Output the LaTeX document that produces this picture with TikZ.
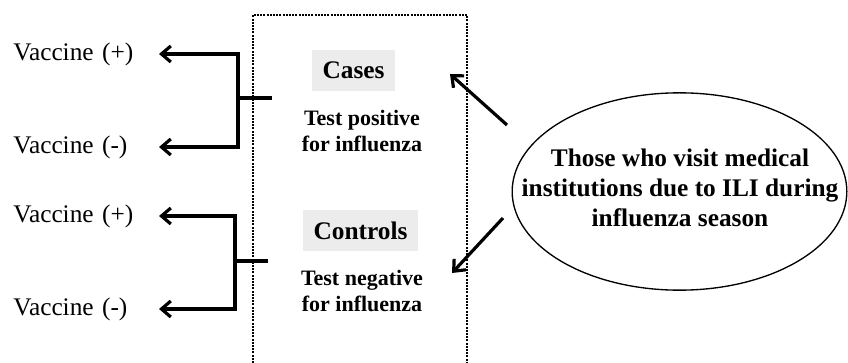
\documentclass[tikz,border=0pt]{standalone}
\usepackage{fontspec}
\setmainfont{Liberation Serif}
\usetikzlibrary{arrows.meta,shapes.geometric}

\tikzset{every picture/.style={line width=0.75pt}}
\tikzset{
  vaclabel/.style={anchor=west,inner sep=0pt,text width=108.75pt,align=left,font=\fontsize{19}{22}\selectfont},
  groupbox/.style={fill=gray!15,inner sep=0pt,minimum height=31pt,font=\fontsize{19}{22}\selectfont\bfseries},
  testtext/.style={inner sep=0pt,align=center,font=\fontsize{16.5}{19.5}\selectfont\bfseries},
  dotframe/.style={line width=1.6pt,dash pattern=on 1.5pt off 0.9pt},
  forkline/.style={line width=2.4pt,line join=miter},
  forkarrow/.style={line width=2.4pt,line join=miter,-{Straight Barb[length=7pt,width=12pt]}},
}

\begin{document}
\begin{tikzpicture}[x=0.75pt,y=0.75pt,yscale=-1,xscale=1]
\useasboundingbox (0,0) rectangle (848,363);

%Shape: Dotted frame, open at the bottom
\draw  [dotframe]  (253,363) -- (253,15) -- (467,15) -- (467,363) ;

% Text Node
\node [groupbox, minimum width=62pt] (cases) at (353.5,70.5) {Cases};
% Text Node
\node [testtext] (casesTest) at (362,131) {Test positive\\for influenza};
% Text Node
\node [groupbox, minimum width=86pt] (controls) at (360.5,230.5) {Controls};
% Text Node
\node [testtext] (controlsTest) at (362,291) {Test negative\\for influenza};

% Text Node
\node [vaclabel] (vacPos1) at (13,54) {Vaccine (+)};
% Text Node
\node [vaclabel] (vacNeg1) at (13,147) {Vaccine (-)};
% Text Node
\node [vaclabel] (vacPos2) at (13,216) {Vaccine (+)};
% Text Node
\node [vaclabel] (vacNeg2) at (13,309) {Vaccine (-)};

%Shape: Ellipse
\node [ellipse, draw, line width=1pt, inner sep=0pt, minimum width=251pt, minimum height=148pt] (iliShape) at (679.5,191.5) {};
% Text Node
\node [inner sep=0pt, align=center, font=\fontsize{19}{22.5}\selectfont\bfseries] (iliText) at (680,188) {Those who visit medical\\institutions due to ILI during\\influenza season};

%Straight Lines: fork of the cases
\coordinate (casesFork) at (238,98);
\coordinate (casesStub) at (272,98);
\draw [forkline]    (casesStub) -- (casesFork) ;
\draw [forkarrow]    (casesFork) -- (casesFork |- vacPos1.east) -- (vacPos1.east) ;
\draw [forkarrow]    (casesFork) -- (casesFork |- vacNeg1.east) -- (vacNeg1.east) ;

%Straight Lines: fork of the controls
\coordinate (controlsFork) at (235,261);
\coordinate (controlsStub) at (268,261);
\draw [forkline]    (controlsStub) -- (controlsFork) ;
\draw [forkarrow]    (controlsFork) -- (controlsFork |- vacPos2.east) -- (vacPos2.east) ;
\draw [forkarrow]    (controlsFork) -- (controlsFork |- vacNeg2.east) -- (vacNeg2.east) ;

%Straight Lines: from the ellipse
\coordinate (toCasesFrom) at (507,125);
\coordinate (toCasesTip) at (450,74);
\coordinate (toControlsFrom) at (503,218);
\coordinate (toControlsTip) at (452,273);
\draw [forkarrow]    (toCasesFrom) -- (toCasesTip) ;
\draw [forkarrow]    (toControlsFrom) -- (toControlsTip) ;

\end{tikzpicture}
\end{document}
